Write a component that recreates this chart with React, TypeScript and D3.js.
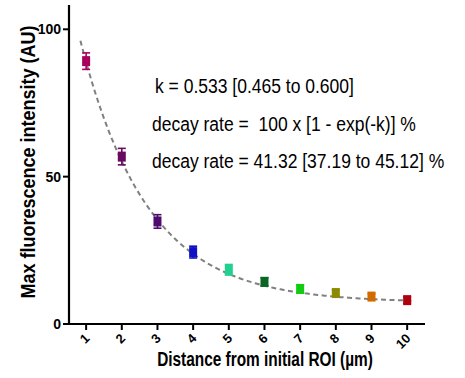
import React from "react";
import * as d3 from "d3";

const distances = [1, 2, 3, 4, 5, 6, 7, 8, 9, 10];
const means = [89.2, 56.8, 34.8, 24.4, 18.4, 14.3, 11.9, 10.5, 9.3, 8.1];
const errors = [2.8, 2.8, 2.3, 2.0, 1.8, 1.4, 1.3, 1.0, 1.0, 1.1];
const colors = ["#a8005c", "#6a0a60", "#4e0a6c", "#1010c4", "#22d090", "#0a6622", "#12cc12", "#8c8a00", "#d26a00", "#b0000e"];
const yTicks = [0, 50, 100];
const xTicks = [1, 2, 3, 4, 5, 6, 7, 8, 9, 10];
// one-phase decay fit: Y = plateau + span * exp(-k x)
const fitK = 0.533;
const fitSpan = 139;
const fitPlateau = 7.3;
const fitRange = [0.84, 10.15];
const annotations = [
  "k = 0.533 [0.465 to 0.600]",
  "decay rate =  100 x [1 - exp(-k)] %",
  "decay rate = 41.32 [37.19 to 45.12] %",
];

export default function App() {
  const W = 465, H = 378;
  const x = d3.scaleLinear().domain([0.52, 10.5]).range([69, 425]);
  const y = d3.scaleLinear().domain([0, 100]).range([324, 29.3]);
  const yTop = 5;
  const fitPts = d3.range(fitRange[0], fitRange[1] + 0.001, 0.05).map((d) => [d, fitPlateau + fitSpan * Math.exp(-fitK * d)] as [number, number]);
  const line = d3.line<[number, number]>().x((d) => x(d[0])).y((d) => y(d[1]));
  const font = "Arial, 'Liberation Sans', sans-serif";
  return (
    <svg width={W} height={H} style={{ position: "absolute", left: 0, top: 0, background: "#fff" }} fontFamily={font}>
      {/* axes */}
      <line x1={69} x2={69} y1={yTop} y2={y(0) + 1} stroke="#000" strokeWidth={2.2} />
      <line x1={68} x2={425} y1={y(0)} y2={y(0)} stroke="#000" strokeWidth={2.2} />
      {yTicks.map((t) => (
        <g key={t}>
          <line x1={63} x2={69} y1={y(t)} y2={y(t)} stroke="#000" strokeWidth={2} />
          <text x={61} y={y(t)} dy="0.36em" textAnchor="end" fontSize={14} fontWeight="bold">{t}</text>
        </g>
      ))}
      {xTicks.map((t) => (
        <g key={t}>
          <line x1={x(t)} x2={x(t)} y1={y(0)} y2={y(0) + 6} stroke="#000" strokeWidth={2} />
          <text transform={`translate(${x(t) + 1},${y(0) + 12}) rotate(-45)`} textAnchor="end" dy="0.35em" fontSize={13} fontWeight="bold">{t}</text>
        </g>
      ))}
      <text transform="translate(265,366) scale(0.77,1)" textAnchor="middle" fontSize={20} fontWeight="bold">Distance from initial ROI (µm)</text>
      <text transform="translate(35,162) rotate(-90) scale(0.9,1)" textAnchor="middle" fontSize={20} fontWeight="bold">Max fluorescence intensity (AU)</text>
      {/* fit curve */}
      <path d={line(fitPts) || ""} fill="none" stroke="#808080" strokeWidth={2} strokeDasharray="5,3.5" />
      {/* points */}
      {distances.map((d, i) => {
        const cx = x(d), cy = y(means[i]);
        const yHi = y(means[i] + errors[i]), yLo = y(means[i] - errors[i]);
        return (
          <g key={d} stroke={colors[i]} fill={colors[i]}>
            <line x1={cx} x2={cx} y1={yHi} y2={yLo} strokeWidth={1.6} />
            <line x1={cx - 4} x2={cx + 4} y1={yHi} y2={yHi} strokeWidth={1.6} />
            <line x1={cx - 4} x2={cx + 4} y1={yLo} y2={yLo} strokeWidth={1.6} />
            <rect x={cx - 4} y={cy - 5} width={8} height={10} stroke="none" />
          </g>
        );
      })}
      {annotations.map((a, i) => (
        <text key={i} transform={`translate(${i === 0 ? 155 : 152},${93 + i * 37.5}) scale(0.875,1)`} fontSize={20} fill="#000" style={{ whiteSpace: "pre" }}>{a}</text>
      ))}
    </svg>
  );
}
